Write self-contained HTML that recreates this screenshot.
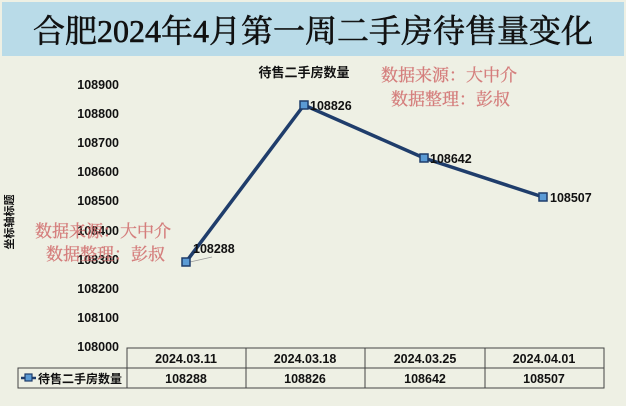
<!DOCTYPE html>
<html><head><meta charset="utf-8"><style>
body{margin:0;width:626px;height:406px;overflow:hidden;background:#eef0e4;font-family:"Liberation Sans","Noto Sans CJK SC",sans-serif}
svg{display:block}
</style></head><body>
<svg width="626" height="406" xmlns="http://www.w3.org/2000/svg">
<rect x="0" y="0" width="626" height="406" fill="#eef0e4"/>
<rect x="2" y="2" width="622" height="54" fill="#b9dbe8"/>
<text x="313" y="42" text-anchor="middle" font-family="'Liberation Serif','Noto Serif CJK SC',serif" font-size="32" fill="#111" stroke="#111" stroke-width="0.6">合肥2024年4月第一周二手房待售量变化</text>
<text x="304" y="77" text-anchor="middle" font-family="'Liberation Sans','Noto Sans CJK SC',sans-serif" font-size="13" font-weight="bold" fill="#111">待售二手房数量</text>
<g font-family="'Liberation Sans',sans-serif" font-size="12.5" font-weight="bold" fill="#111" text-anchor="end">
<text x="119" y="89">108900</text>
<text x="119" y="118">108800</text>
<text x="119" y="147">108700</text>
<text x="119" y="176">108600</text>
<text x="119" y="205">108500</text>
<text x="119" y="235">108400</text>
<text x="119" y="264">108300</text>
<text x="119" y="293">108200</text>
<text x="119" y="322">108100</text>
<text x="119" y="351">108000</text>
</g>
<text transform="translate(13,222) rotate(-90)" text-anchor="middle" font-size="11" font-weight="bold" fill="#111" font-family="'Liberation Sans','Noto Sans CJK SC',sans-serif">坐标轴标题</text>
<polyline points="186,262 304,105 424,158 543,197" fill="none" stroke="#1f3d6b" stroke-width="3.5"/>
<line x1="190" y1="262" x2="212" y2="257" stroke="#999" stroke-width="0.8"/>
<g fill="#5b9bd5" stroke="#1f3d6b" stroke-width="1.5">
<rect x="182" y="258" width="8" height="8"/><rect x="300" y="101" width="8" height="8"/><rect x="420" y="154" width="8" height="8"/><rect x="539" y="193" width="8" height="8"/>
</g>
<g font-family="'Liberation Sans',sans-serif" font-size="12.5" font-weight="bold" fill="#111">
<text x="193" y="253">108288</text><text x="310" y="110">108826</text><text x="430" y="163">108642</text><text x="550" y="202">108507</text>
</g>
<g font-family="'Liberation Serif','Noto Serif CJK SC',serif" font-size="17" fill="#d06a6a" stroke="#d06a6a" stroke-width="0.3" opacity="0.85">
<text x="381" y="81">数据来源：大中介</text>
<text x="391" y="105">数据整理：彭叔</text>
<text x="35" y="237">数据来源：大中介</text>
<text x="46" y="260">数据整理：彭叔</text>
</g>
<g stroke="#444" stroke-width="1" fill="none">
<rect x="127" y="348" width="477" height="40"/>
<rect x="18" y="368" width="109" height="20"/>
<line x1="127" y1="368" x2="604" y2="368"/>
<line x1="246" y1="348" x2="246" y2="388"/><line x1="365" y1="348" x2="365" y2="388"/><line x1="485" y1="348" x2="485" y2="388"/>
</g>
<g font-family="'Liberation Sans',sans-serif" font-size="12.5" font-weight="bold" fill="#111" text-anchor="middle">
<text x="186" y="363">2024.03.11</text><text x="305" y="363">2024.03.18</text><text x="425" y="363">2024.03.25</text><text x="544" y="363">2024.04.01</text>
<text x="186" y="383">108288</text><text x="305" y="383">108826</text><text x="425" y="383">108642</text><text x="544" y="383">108507</text>
</g>
<line x1="21" y1="378" x2="36" y2="378" stroke="#1f3d6b" stroke-width="2.5"/>
<rect x="25" y="374" width="7" height="7" fill="#5b9bd5" stroke="#1f3d6b" stroke-width="1.2"/>
<text x="38" y="383" font-size="12" font-weight="bold" fill="#111" font-family="'Liberation Sans','Noto Sans CJK SC',sans-serif">待售二手房数量</text>
</svg>
</body></html>
